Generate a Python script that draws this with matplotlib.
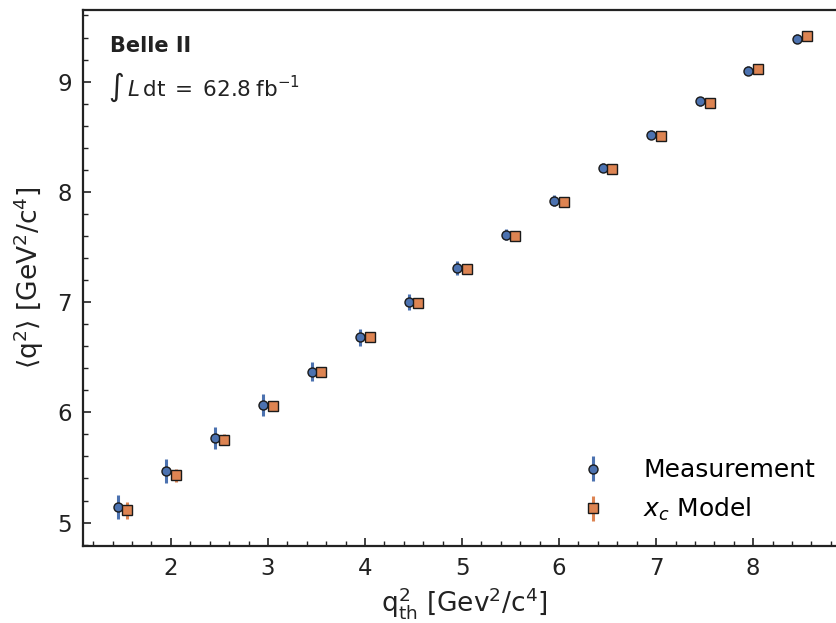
import matplotlib
matplotlib.use('Agg')
import matplotlib.pyplot as plt
import numpy as np

# bin centres of the threshold scan
q2_th = np.array([1.5, 2.0, 2.5, 3.0, 3.5, 4.0, 4.5, 5.0, 5.5, 6.0, 6.5, 7.0, 7.5, 8.0, 8.5])

# measured <q2> and uncertainty
meas_val = [5.14, 5.47, 5.77, 6.07, 6.37, 6.68, 7.00, 7.31, 7.61, 7.92, 8.22, 8.52, 8.82, 9.10, 9.39]
meas_err = [0.11, 0.11, 0.10, 0.10, 0.09, 0.08, 0.07, 0.06, 0.05, 0.05, 0.04, 0.04, 0.04, 0.04, 0.04]

# x_c model prediction
model_val = [5.11, 5.43, 5.75, 6.06, 6.37, 6.68, 6.99, 7.30, 7.60, 7.91, 8.21, 8.51, 8.81, 9.11, 9.41]
model_err = [0.08, 0.06, 0.05, 0.04, 0.03, 0.03, 0.02, 0.02, 0.02, 0.02, 0.02, 0.02, 0.02, 0.02, 0.02]

offset = 0.05
blue = '#4c72b0'
orange = '#dd8452'

plt.rcParams['font.family'] = 'DejaVu Sans'
plt.rcParams['mathtext.fontset'] = 'dejavusans'

fig = plt.figure(figsize=(8.37, 6.23), dpi=100)
ax = fig.add_axes([0.099, 0.124, 0.911, 0.86])

ax.errorbar(q2_th - offset, meas_val, yerr=meas_err, fmt='o', color=blue,
            mfc=blue, mec='#1a1a1a', mew=1.0, ms=6.5, elinewidth=2.2,
            capsize=0, label='Measurement', zorder=3)
ax.errorbar(q2_th + offset, model_val, yerr=model_err, fmt='s', color=orange,
            mfc=orange, mec='#1a1a1a', mew=1.0, ms=6.5, elinewidth=2.2,
            capsize=0, label='$x_c$ Model', zorder=3)

ax.set_xlim(1.093, 8.95)
ax.set_ylim(4.79, 9.65)
ax.set_xticks([2, 3, 4, 5, 6, 7, 8])
ax.set_yticks([5, 6, 7, 8, 9])
ax.xaxis.set_minor_locator(matplotlib.ticker.MultipleLocator(0.2))
ax.yaxis.set_minor_locator(matplotlib.ticker.MultipleLocator(0.2))
ax.tick_params(which='both', direction='in', labelsize=16.5, color='#222222',
               labelcolor='#222222')
ax.tick_params(which='major', length=6, width=1.2, pad=8)
ax.tick_params(which='minor', length=3.5, width=1.0)
for s in ax.spines.values():
    s.set_linewidth(1.6)
    s.set_color('#222222')
ax.spines['right'].set_visible(False)

ax.set_xlabel(r'$\mathrm{q}^2_{\mathrm{th}}$ [Gev$^2$/c$^4$]', fontsize=19,
              labelpad=4, color='#222222')
ax.set_ylabel(r'$\langle\mathrm{q}^2\rangle$ [GeV$^2$/c$^4$]', fontsize=19,
              labelpad=8, color='#222222')

ax.text(0.035, 0.933, 'Belle II', transform=ax.transAxes, fontsize=15,
        fontweight='bold', va='center', ha='left', color='#222222')
ax.text(0.033, 0.856, r'$\int\, L\,\mathrm{dt}\;=\;62.8\;\mathrm{fb}^{-1}$',
        transform=ax.transAxes, fontsize=15.5, va='center', ha='left', color='#222222')

ax.legend(loc='lower right', bbox_to_anchor=(0.99, 0.0), frameon=False,
          fontsize=18, handletextpad=1.0, labelspacing=0.55, handlelength=2.0)

plt.savefig('out.png', dpi=100)
plt.close()
